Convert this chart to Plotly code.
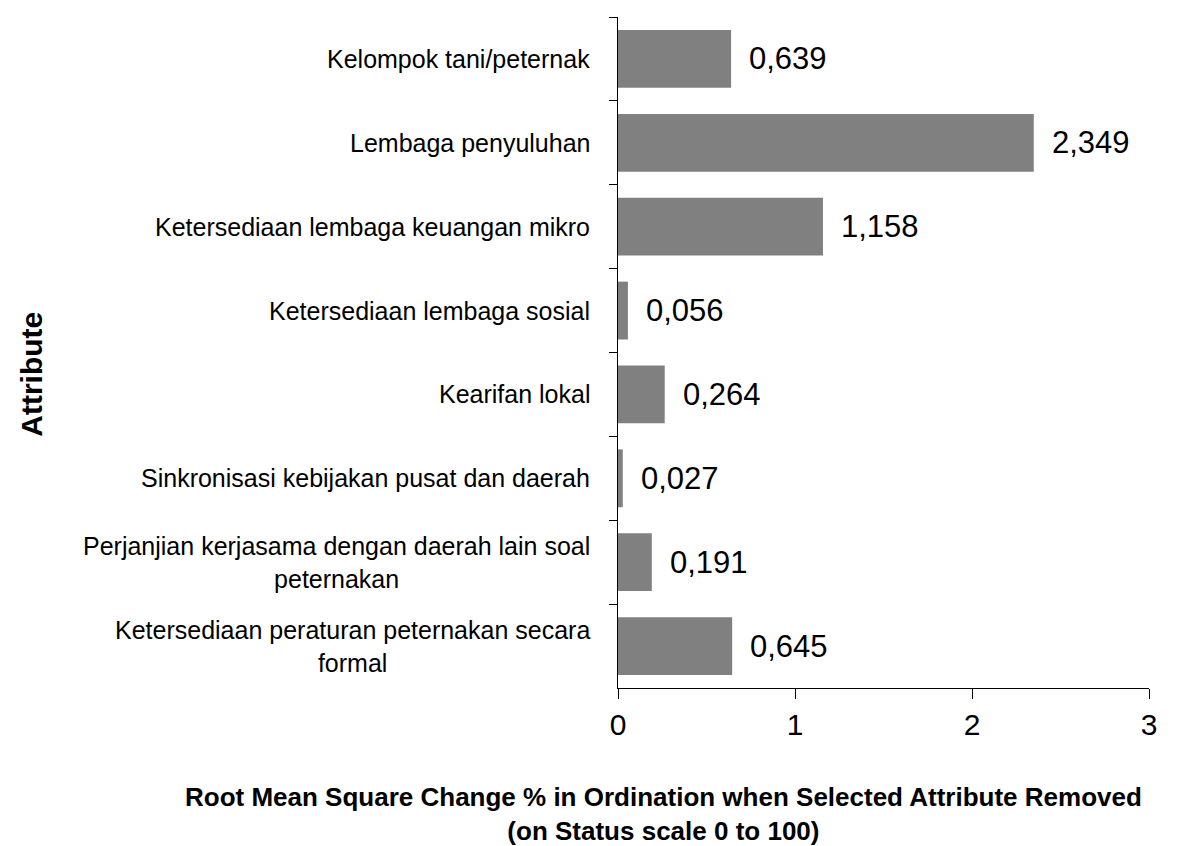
import plotly.graph_objects as go

categories = [
    "Kelompok tani/peternak",
    "Lembaga penyuluhan",
    "Ketersediaan lembaga keuangan mikro",
    "Ketersediaan lembaga sosial",
    "Kearifan lokal",
    "Sinkronisasi kebijakan pusat dan daerah",
    "Perjanjian kerjasama dengan daerah lain soal<br>peternakan",
    "Ketersediaan peraturan peternakan secara<br>formal",
]
values = [0.639, 2.349, 1.158, 0.056, 0.264, 0.027, 0.191, 0.645]
x_ticks = [0, 1, 2, 3]
x_title = "Root Mean Square Change % in Ordination when Selected Attribute Removed<br>(on Status scale 0 to 100)"
y_title = "Attribute"

FONT = "Liberation Sans, Arial, sans-serif"

fig = go.Figure()
fig.add_trace(go.Bar(
    x=values, y=categories, orientation="h",
    marker=dict(color="#808080", line=dict(width=0)),
    hoverinfo="x+y",
))

annotations = []
for c, v in zip(categories, values):
    annotations.append(dict(
        x=v, y=c, xref="x", yref="y", text=f"{v:.3f}".replace(".", ","),
        showarrow=False, xanchor="left", yanchor="middle", xshift=16,
        font=dict(family=FONT, size=31, color="black"),
    ))
    annotations.append(dict(
        x=0, y=c, xref="paper", yref="y", text=c,
        showarrow=False, xanchor="right", yanchor="middle", align="center",
        xshift=-26,
        font=dict(family=FONT, size=25, color="black"),
    ))

annotations.append(dict(
    x=-1.104, y=0.468, xref="paper", yref="paper", text=f"<b>{y_title}</b>",
    textangle=-90, showarrow=False, xanchor="center", yanchor="middle",
    font=dict(family=FONT, size=30, color="black"),
))
annotations.append(dict(
    x=0.085, y=-0.137, xref="paper", yref="paper", text=f"<b>{x_title}</b>",
    showarrow=False, xanchor="center", yanchor="top", align="center",
    font=dict(family=FONT, size=26, color="black"),
))

# page body adds an 8px margin; the figure is sized/offset to compensate
fig.update_layout(
    width=1169, height=838,
    margin=dict(l=610, r=28, t=9, b=158),
    paper_bgcolor="white", plot_bgcolor="white",
    bargap=0.31, showlegend=False,
    annotations=annotations,
    font=dict(family=FONT, color="black"),
)
fig.update_xaxes(
    range=[0, 3], tickvals=x_ticks, ticktext=[str(t) for t in x_ticks],
    showgrid=False, zeroline=False, showline=True, linecolor="black", linewidth=1,
    ticks="outside", ticklen=10, tickcolor="black", tickwidth=1,
    tickfont=dict(family=FONT, size=30, color="black"),
)
fig.update_yaxes(
    range=[7.5, -0.5], showgrid=False, zeroline=False,
    showline=True, linecolor="black", linewidth=1,
    ticks="outside", ticklen=8, tickcolor="black", tickwidth=1,
    tickson="boundaries", showticklabels=False,
)

fig.write_html("out.html")
